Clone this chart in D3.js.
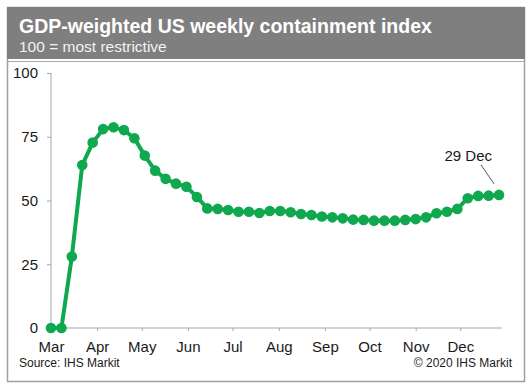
<!DOCTYPE html>
<html>
<head>
<meta charset="utf-8">
<script src="https://cdn.jsdelivr.net/npm/d3@7"></script>
<style>
  body { margin: 0; background: #fff; }
  svg { font-family: "Liberation Sans", Arial, sans-serif; }
</style>
</head>
<body>
<div id="chart"></div>
<script>
var width = 532,
    height = 388;

var titleText = 'GDP-weighted US weekly containment index',
    subtitleText = '100 = most restrictive',
    sourceText = 'Source: IHS Markit',
    copyrightText = '\u00a9 2020 IHS Markit',
    lastLabel = '29 Dec';

// weekly readings, first week starting 3 Mar 2020
var startDate = new Date(2020, 2, 3);
var indexValues = [
  0, 0, 28, 63.9, 72.7, 78, 78.7, 77.6, 74.4, 67.6,
  61.7, 58.5, 56.6, 55.4, 51.4, 46.9, 46.7, 46.3, 45.6, 45.6,
  45.1, 45.9, 45.9, 45.4, 44.7, 44.3, 43.7, 43.4, 43, 42.5,
  42.4, 42.1, 42.1, 42.1, 42.4, 42.7, 43.4, 45, 45.6, 46.7,
  50.9, 51.8, 51.9, 52.2
];
var yTicks = [0, 25, 50, 75, 100];
var monthLabels = ['Mar', 'Apr', 'May', 'Jun', 'Jul', 'Aug', 'Sep', 'Oct', 'Nov', 'Dec'];

var green = '#0fa84f',
    axisColor = '#a6a6a6',
    textColor = '#1a1a1a';

var data = indexValues.map(function(v, i) {
  return {date: d3.timeDay.offset(startDate, i * 7), value: v};
});
// month ticks fall on the same day of month as the first reading
var monthTicks = monthLabels.map(function(m, i) {
  return new Date(2020, 2 + i, 3);
});

var svg = d3.select('#chart').append('svg')
    .attr('width', width)
    .attr('height', height);

// frame
svg.append('rect')
    .attr('x', 7.5).attr('y', 7.5)
    .attr('width', 517).attr('height', 374)
    .attr('fill', '#fff')
    .attr('stroke', '#a0a0a0')
    .attr('stroke-width', 1.5);

// header band
svg.append('rect')
    .attr('x', 7).attr('y', 7)
    .attr('width', 518).attr('height', 52)
    .attr('fill', '#7f7f7f');
svg.append('line')
    .attr('x1', 7).attr('x2', 525)
    .attr('y1', 61.5).attr('y2', 61.5)
    .attr('stroke', '#a8a8a8');

svg.append('text')
    .attr('x', 19).attr('y', 33)
    .attr('fill', '#fff')
    .attr('font-size', '19.5px')
    .attr('font-weight', 'bold')
    .text(titleText);
svg.append('text')
    .attr('x', 19).attr('y', 52)
    .attr('fill', '#f2f2f2')
    .attr('font-size', '15.5px')
    .text(subtitleText);

var x = d3.scaleTime()
    .domain([startDate, new Date(2020, 11, 31)])
    .range([51, 502]);
var y = d3.scaleLinear()
    .domain([0, 100])
    .range([328, 73]);

// y axis
var yAxis = svg.append('g')
    .attr('transform', 'translate(51,0)')
    .call(d3.axisLeft(y).tickValues(yTicks).tickSize(4).tickPadding(9));
yAxis.select('.domain').attr('stroke', axisColor).attr('d', 'M0,' + y(100) + 'V' + y(0));
yAxis.selectAll('.tick line').attr('stroke', axisColor);
yAxis.selectAll('.tick text')
    .attr('font-size', '15px')
    .attr('fill', textColor)
    .attr('font-family', 'Liberation Sans, Arial, sans-serif');

// x axis
var xAxis = svg.append('g')
    .attr('transform', 'translate(0,' + y(0) + ')')
    .call(d3.axisBottom(x)
      .tickValues(monthTicks)
      .tickFormat(function(d, i) { return monthLabels[i]; })
      .tickSize(3)
      .tickPadding(10));
xAxis.select('.domain').attr('stroke', axisColor).attr('d', 'M51,0H502');
xAxis.selectAll('.tick line').attr('stroke', axisColor);
xAxis.selectAll('.tick text')
    .attr('font-size', '15px')
    .attr('fill', textColor)
    .attr('font-family', 'Liberation Sans, Arial, sans-serif');

// series
var line = d3.line()
    .x(function(d) { return x(d.date); })
    .y(function(d) { return y(d.value); });

svg.append('path')
    .datum(data)
    .attr('d', line)
    .attr('fill', 'none')
    .attr('stroke', green)
    .attr('stroke-width', 4)
    .attr('stroke-linejoin', 'round');

svg.append('g').selectAll('circle')
    .data(data)
  .enter().append('circle')
    .attr('cx', function(d) { return x(d.date); })
    .attr('cy', function(d) { return y(d.value); })
    .attr('r', 5.3)
    .attr('fill', green);

// last point annotation
var last = data[data.length - 1];
var lx = x(last.date),
    ly = y(last.value);
svg.append('line')
    .attr('x1', lx - 18).attr('y1', ly - 30)
    .attr('x2', lx - 5).attr('y2', ly - 11)
    .attr('stroke', '#555')
    .attr('stroke-width', 1);
svg.append('text')
    .attr('x', lx - 7).attr('y', ly - 34)
    .attr('text-anchor', 'end')
    .attr('font-size', '15px')
    .attr('fill', textColor)
    .text(lastLabel);

// footer
svg.append('text')
    .attr('x', 19).attr('y', 367)
    .attr('font-size', '12px')
    .attr('fill', textColor)
    .text(sourceText);
svg.append('text')
    .attr('x', 512).attr('y', 367)
    .attr('text-anchor', 'end')
    .attr('font-size', '12px')
    .attr('fill', textColor)
    .text(copyrightText);
</script>
</body>
</html>
